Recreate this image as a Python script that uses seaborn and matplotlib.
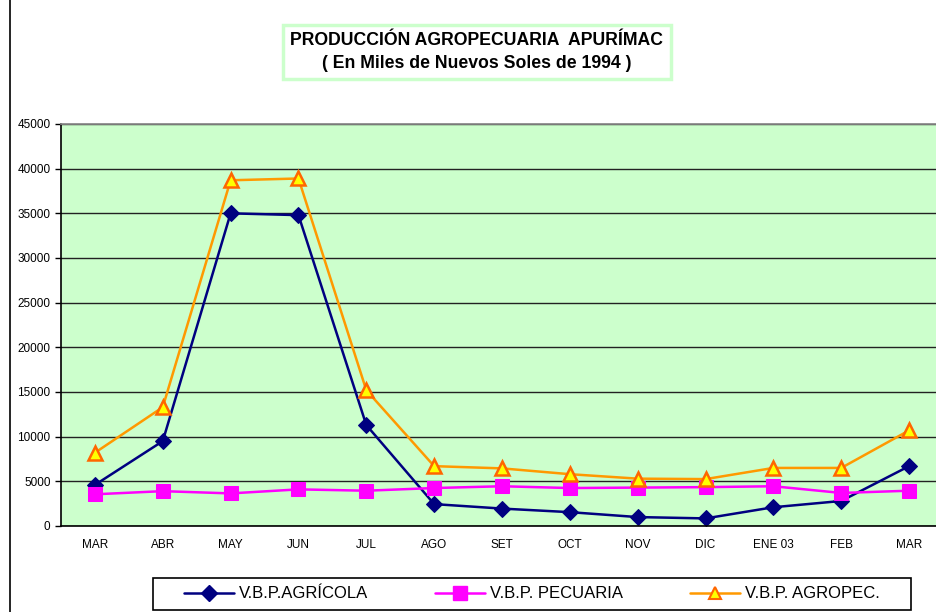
import pandas as pd
import matplotlib.pyplot as plt
import seaborn as sns
from matplotlib.lines import Line2D
from matplotlib.patches import Rectangle

months = ["MAR", "ABR", "MAY", "JUN", "JUL", "AGO", "SET", "OCT", "NOV", "DIC", "ENE 03", "FEB", "MAR"]
agricola = [4600, 9500, 35000, 34800, 11300, 2450, 1950, 1550, 1000, 850, 2100, 2800, 6700]
pecuaria = [3550, 3900, 3650, 4100, 3950, 4250, 4450, 4250, 4300, 4350, 4450, 3700, 3950]
agropec = [8200, 13300, 38700, 38900, 15200, 6700, 6450, 5800, 5300, 5250, 6500, 6500, 10700]

sns.set_theme(style="white")
plt.rcParams['font.family'] = ['Liberation Sans', 'DejaVu Sans']
plt.rcParams['text.color'] = 'black'

fig = plt.figure(figsize=(9.36, 6.12), dpi=100)
ax = fig.add_axes([61 / 936, 1 - 526 / 612, (943 - 61) / 936, (526 - 124) / 612])
ax.set_facecolor("#CCFFCC")

x = list(range(len(months)))

sns.lineplot(x=x, y=agricola, ax=ax, color="#000080", linewidth=1.8,
             marker="D", markersize=8.5, markerfacecolor="#000080", markeredgecolor="#000080")
sns.lineplot(x=x, y=pecuaria, ax=ax, color="#FF00FF", linewidth=1.8,
             marker="s", markersize=10, markerfacecolor="#FF00FF", markeredgecolor="#FF00FF")
sns.lineplot(x=x, y=agropec, ax=ax, color="#FF9900", linewidth=1.8,
             marker="^", markersize=10, markerfacecolor="#FFFF00", markeredgecolor="#FF6600",
             markeredgewidth=1.8)

ax.set_xlim(-0.5, len(months) - 0.5)
ax.set_ylim(0, 45000)
ax.set_yticks(range(0, 45001, 5000))
ax.yaxis.grid(True, color="#222222", linewidth=1)
ax.set_axisbelow(True)
ax.set_xticks(x)
ax.set_xticklabels(months)
ax.set_xticks([i + 0.5 for i in range(-1, len(months))], minor=True)
ax.tick_params(axis="x", which="major", length=0, labelsize=8.5, pad=9)
ax.tick_params(axis="x", which="minor", length=4, width=1, color="black", direction="out")
ax.tick_params(axis="y", length=4, width=1, color="black", direction="out", labelsize=8.5, left=True)
for lbl in ax.get_yticklabels() + ax.get_xticklabels():
    lbl.set_color("black")
for side in ["left", "bottom"]:
    ax.spines[side].set_color("black")
    ax.spines[side].set_linewidth(1.2)
ax.spines["top"].set_color("#888888")
ax.spines["right"].set_visible(False)

# title box
fig.text(477 / 936, 1 - 52 / 612, "PRODUCCIÓN AGROPECUARIA  APURÍMAC\n( En Miles de Nuevos Soles de 1994 )",
         ha="center", va="center", fontsize=12.7, fontweight="bold", linespacing=1.4, color="black",
         bbox=dict(boxstyle="square,pad=0.4", facecolor="white", edgecolor="#CCFFCC", linewidth=2.5))

# left frame line
fig.add_artist(Line2D([10 / 936, 10 / 936], [0, 1], color="black", linewidth=1.2))

# legend box
fig.add_artist(Rectangle((153 / 936, 2 / 612), (911 - 153) / 936, 32 / 612,
                         transform=fig.transFigure, facecolor="white", edgecolor="black", linewidth=1.2))

handles = [
    Line2D([], [], color="#000080", linewidth=1.8, marker="D", markersize=8.5,
           markerfacecolor="#000080", markeredgecolor="#000080"),
    Line2D([], [], color="#FF00FF", linewidth=1.8, marker="s", markersize=10,
           markerfacecolor="#FF00FF", markeredgecolor="#FF00FF"),
    Line2D([], [], color="#FF9900", linewidth=1.8, marker="^", markersize=9,
           markerfacecolor="#FFFF00", markeredgecolor="#FF6600", markeredgewidth=1.5),
]
labels = ["V.B.P.AGRÍCOLA", "V.B.P. PECUARIA", "V.B.P. AGROPEC."]
leg = fig.legend(handles, labels, loc="center", ncol=3,
                 bbox_to_anchor=(532 / 936, 1 - 594 / 612),
                 fontsize=12, frameon=False, borderaxespad=0, labelcolor="black",
                 handlelength=3.0, handletextpad=0.3, columnspacing=4.0)

fig.savefig("out.png", dpi=100)
